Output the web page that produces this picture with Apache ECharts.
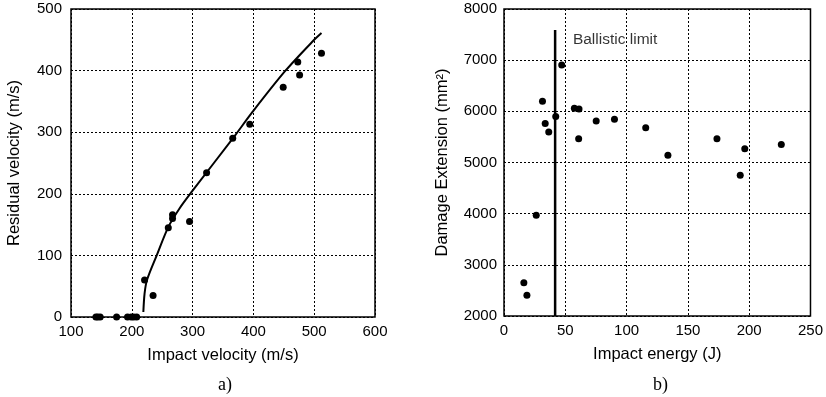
<!DOCTYPE html>
<html lang="en">
<head>
<meta charset="UTF-8">
<title>Impact tests</title>
<script src="https://cdn.jsdelivr.net/npm/echarts@6/dist/echarts.min.js"></script>
<style>
  html, body { margin: 0; padding: 0; background: #fff; }
  #main { width: 826px; height: 397px; }
</style>
</head>
<body>
<div id="main"></div>
<script type="text/javascript">
// a) residual velocity vs impact velocity
var impactVel = [141, 144, 148, 175, 193, 199, 203, 208, 221, 235, 260, 267, 267, 295, 323, 366, 394, 449, 473, 476, 512];
var residualVel = [0, 0, 0, 0, 0, 0, 0, 0, 60, 35, 145, 160, 166, 155, 234, 290, 313, 373, 414, 393, 428];
// fitted curve
var fitVel = [219, 221, 225, 241, 260, 279, 300, 370, 397, 452, 498, 512];
var fitRes = [8, 38, 60, 100, 146, 177, 205, 295, 331, 399, 448, 461];

// b) damage extension vs impact energy
var impactEnergy = [16.2, 18.7, 26.3, 31.4, 33.6, 36.5, 42.2, 47.1, 57.4, 61.2, 60.9, 75.2, 90.1, 115.6, 133.7, 173.7, 192.7, 196.4, 226.2];
var damageExt = [2650, 2405, 3970, 6195, 5760, 5595, 5900, 6905, 6060, 6045, 5465, 5810, 5845, 5680, 5140, 5465, 4750, 5270, 5350];
var ballisticE = 41.7;
var ballisticTop = 7590;

function pairs(xs, ys) {
    var out = [];
    for (var i = 0; i < xs.length; i++) {
        out.push([xs[i], ys[i]]);
    }
    return out;
}

var font = 'Liberation Sans, Arial, sans-serif';
var gridLine = { show: true, lineStyle: { color: '#000', type: [2, 2], width: 1 } };
var tickLabel = { color: '#000', fontFamily: font, fontSize: 15, formatter: function (v) { return String(v); } };
var nameText = { color: '#000', fontFamily: font, fontSize: 16.5 };
var dot = { color: '#000', opacity: 1 };

var myChart = echarts.init(document.getElementById('main'));
myChart.setOption({
    animation: false,
    title: [
        { text: 'a)', left: 213, top: 371, textStyle: { fontFamily: 'Liberation Serif, serif', fontSize: 18, fontWeight: 'normal', color: '#000' } },
        { text: 'b)', left: 648, top: 371, textStyle: { fontFamily: 'Liberation Serif, serif', fontSize: 18, fontWeight: 'normal', color: '#000' } }
    ],
    grid: [
        { left: 71, top: 9, width: 304, height: 308, show: true, borderColor: '#000', borderWidth: 1.5 },
        { left: 504, top: 9, width: 308, height: 307, show: true, borderColor: '#000', borderWidth: 1.5 }
    ],
    xAxis: [
        {
            gridIndex: 0, type: 'value', min: 100, max: 600, interval: 100,
            name: 'Impact velocity (m/s)', nameLocation: 'middle', nameGap: 30, nameTextStyle: nameText,
            axisLine: { show: false }, axisTick: { show: false },
            axisLabel: Object.assign({ margin: 7 }, tickLabel), splitLine: gridLine
        },
        {
            gridIndex: 1, type: 'value', min: 0, max: 250, interval: 50,
            name: 'Impact energy (J)', nameLocation: 'middle', nameGap: 30, nameTextStyle: nameText,
            axisLine: { show: false }, axisTick: { show: false },
            axisLabel: Object.assign({ margin: 7 }, tickLabel), splitLine: gridLine
        }
    ],
    yAxis: [
        {
            gridIndex: 0, type: 'value', min: 0, max: 500, interval: 100,
            name: 'Residual velocity (m/s)', nameLocation: 'middle', nameGap: 48, nameTextStyle: nameText,
            axisLine: { show: false }, axisTick: { show: false },
            axisLabel: Object.assign({ margin: 9 }, tickLabel), splitLine: gridLine
        },
        {
            gridIndex: 1, type: 'value', min: 2000, max: 8000, interval: 1000,
            name: 'Damage Extension (mm²)', nameLocation: 'middle', nameGap: 53, nameTextStyle: nameText,
            axisLine: { show: false }, axisTick: { show: false },
            axisLabel: Object.assign({ margin: 7 }, tickLabel), splitLine: gridLine
        }
    ],
    series: [
        {
            name: 'fit', type: 'line', xAxisIndex: 0, yAxisIndex: 0,
            data: pairs(fitVel, fitRes), smooth: 0.3, showSymbol: false,
            lineStyle: { color: '#000', width: 2 }, z: 3
        },
        {
            name: 'residual', type: 'scatter', xAxisIndex: 0, yAxisIndex: 0,
            data: pairs(impactVel, residualVel), symbolSize: 7,
            itemStyle: dot, z: 4
        },
        {
            name: 'ballistic limit', type: 'line', xAxisIndex: 1, yAxisIndex: 1,
            data: [[ballisticE, 2000], [ballisticE, ballisticTop]], showSymbol: false,
            lineStyle: { color: '#000', width: 2.5 }, z: 3
        },
        {
            name: 'label', type: 'scatter', xAxisIndex: 1, yAxisIndex: 1,
            data: [[55.8, 7394]], symbolSize: 1, itemStyle: { color: 'transparent' },
            label: { show: true, formatter: 'Ballistic limit', position: 'right', distance: 0,
                     color: '#000', fontFamily: font, fontSize: 15.5 }
        },
        {
            name: 'damage', type: 'scatter', xAxisIndex: 1, yAxisIndex: 1,
            data: pairs(impactEnergy, damageExt), symbolSize: 7,
            itemStyle: dot, z: 4
        }
    ]
});
</script>
</body>
</html>
